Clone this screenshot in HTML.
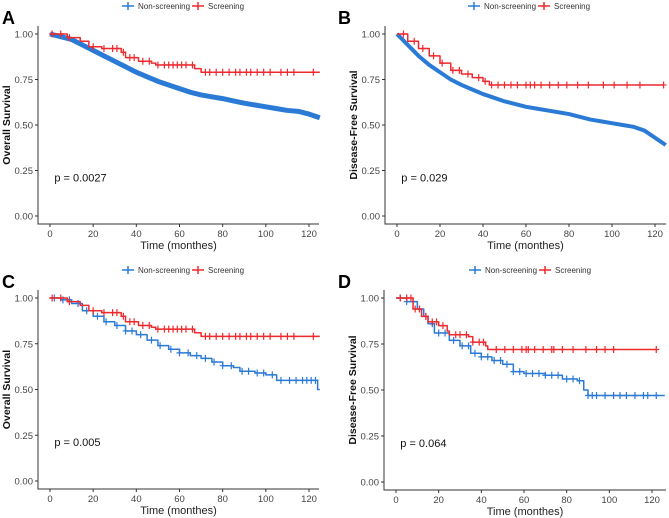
<!DOCTYPE html>
<html><head><meta charset="utf-8">
<style>
body{margin:0;background:#fff;font-family:"Liberation Sans",sans-serif;}
svg{display:block}
</style></head>
<body>
<svg id="chart" width="669" height="518" viewBox="0 0 669 518" xmlns="http://www.w3.org/2000/svg"></svg>
<script>
const xTicks=[0,20,40,60,80,100,120];
const yTicks=[0,0.25,0.5,0.75,1];
const yTickLabels=["0.00","0.25","0.50","0.75","1.00"];
const panelLetters=["A","B","C","D"];
const yTitles=["Overall Survival","Disease-Free Survival","Overall Survival","Disease-Free Survival"];
const pLabels=["p = 0.0027","p = 0.029","p = 0.005","p = 0.064"];
const aNonT=[0,5,10,15,20,25,30,35,40,45,50,55,60,65,70,75,80,85,90,95,100,105,110,115,120,125];
const aNonS=[1,0.985,0.97,0.94,0.91,0.88,0.85,0.82,0.79,0.765,0.74,0.72,0.70,0.68,0.665,0.655,0.645,0.632,0.62,0.61,0.60,0.59,0.58,0.575,0.56,0.54];
const aScrT=[0,8,14,18,24,33,35,41,47,49,67,70,125];
const aScrS=[1,0.98,0.96,0.93,0.92,0.90,0.87,0.85,0.84,0.83,0.81,0.79,0.79];
const aScrC=[1,5,9,20,25,29,31,34,37,39,43,46,50,53,55,57,59,61,63,66,72,74,77,80,83,86,88,91,93,96,99,102,107,110,113,122];
const bNonT=[0,5,10,15,20,25,30,35,40,45,50,55,60,65,70,75,80,85,90,95,100,105,110,115,120,125];
const bNonS=[1,0.94,0.88,0.83,0.79,0.75,0.72,0.695,0.67,0.65,0.63,0.615,0.60,0.59,0.58,0.57,0.56,0.545,0.53,0.52,0.51,0.50,0.49,0.47,0.43,0.39];
const bScrT=[0,5,10,15,20,25,30,35,40,43,124];
const bScrS=[1,0.96,0.92,0.88,0.84,0.80,0.78,0.76,0.74,0.72,0.72];
const bScrC=[3,8,12,17,21,26,29,33,38,41,44,47,50,53,56,60,62,64,67,71,75,79,84,89,96,101,107,113,124];
const cNonT=[0,5,10,15,20,25,30,35,40,45,50,55,60,65,70,75,80,85,88,95,100,105,110,120,124,125];
const cNonS=[1,0.99,0.97,0.93,0.90,0.87,0.85,0.82,0.80,0.77,0.74,0.72,0.70,0.685,0.67,0.65,0.63,0.62,0.60,0.59,0.58,0.55,0.55,0.55,0.50,0.50];
const cNonC=[2,6,9,13,17,22,26,31,35,38,42,47,51,56,60,64,68,72,76,80,84,89,92,96,99,103,107,111,114,117,119,121,123];
const cScrT=aScrT, cScrS=aScrS, cScrC=aScrC;
const dNonT=[0,5,10,13,15,18,25,30,35,40,45,50,55,60,70,78,85,88,90,126];
const dNonS=[1,0.98,0.94,0.90,0.86,0.81,0.77,0.74,0.70,0.68,0.66,0.64,0.60,0.59,0.58,0.56,0.55,0.50,0.47,0.47];
const dNonC=[2,5,8,11,14,17,20,23,27,31,34,37,40,43,46,49,52,55,58,61,64,67,70,73,76,80,83,86,90,92,94,98,102,105,108,112,116,118,122];
const dScrT=[0,8,12,15,20,24,25,34,36,42,43,122];
const dScrS=[1,0.94,0.90,0.87,0.85,0.82,0.80,0.79,0.76,0.74,0.72,0.72];
const dScrC=[2,5,7,9,11,14,17,19,22,28,30,33,36,39,41,47,51,55,59,61,62,65,69,73,74,78,83,89,94,98,102,122];
const panels=[
 {x0:50,x1:309,xl:38,xr:319,yt:34,yb:216,ya:224,nT:aNonT,nS:aNonS,nC:null,nW:5,nL:true,sT:aScrT,sS:aScrS,sC:aScrC},
 {x0:397,x1:655,xl:385,xr:666,yt:34,yb:216,ya:224,nT:bNonT,nS:bNonS,nC:null,nW:4,nL:true,sT:bScrT,sS:bScrS,sC:bScrC},
 {x0:50,x1:309,xl:38,xr:319,yt:298,yb:481,ya:489,nT:cNonT,nS:cNonS,nC:cNonC,nW:1.5,nL:false,sT:cScrT,sS:cScrS,sC:cScrC},
 {x0:396,x1:652,xl:384,xr:666,yt:298,yb:482,ya:490,nT:dNonT,nS:dNonS,nC:dNonC,nW:1.5,nL:false,sT:dScrT,sS:dScrS,sC:dScrC}
];
const BLUE="#2b7bd6", RED="#ee2a2e";
const svg=document.getElementById('chart');
const NS="http://www.w3.org/2000/svg";
function mk(tag,attrs,parent){const e=document.createElementNS(NS,tag);for(const k in attrs)e.setAttribute(k,attrs[k]);(parent||svg).appendChild(e);return e;}
function stepAt(T,S,t){let v=S[0];for(let i=0;i<T.length;i++){if(T[i]<=t)v=S[i];}return v;}
panels.forEach((p,i)=>{
 const g=mk('g',{});
 
 
 const xs=t=>p.x0+(p.x1-p.x0)*t/120;
 const ys=v=>p.yb-(p.yb-p.yt)*v;
 const L=mk('text',{x:(i%2?338:2),y:p.yt-10,'font-size':18,'font-weight':'bold',fill:'#000'},g);L.textContent=panelLetters[i];
 
 const lx=(i%2?(i==3?469:468):122), ly=p.yt-28;
 const lg=mk('g',{},g);
 
 [[BLUE,"Non-screening",lx],[RED,"Screening",lx+70]].forEach(([c,t,x])=>{
  mk('line',{x1:x,y1:ly,x2:x+12,y2:ly,stroke:c,'stroke-width':1.5},lg);
  mk('line',{x1:x+6,y1:ly-4,x2:x+6,y2:ly+4,stroke:c,'stroke-width':1.5},lg);
  const tt=mk('text',{x:x+16,y:ly+3,'font-size':8,fill:'#333'},lg);tt.textContent=t;
  
 });
 const ax=mk('path',{d:`M${p.xl},${p.yt-8}V${p.ya}H${p.xr}`,stroke:'#333',fill:'none','stroke-width':1},g);
 
 yTicks.forEach((v,k)=>{
  mk('line',{x1:p.xl-3,x2:p.xl,y1:ys(v),y2:ys(v),stroke:'#333'},g);
  const t=mk('text',{x:p.xl-5,y:ys(v)+3.5,'font-size':9.5,'text-anchor':'end',fill:'#444'},g);t.textContent=yTickLabels[k];
  
 });
 xTicks.forEach(v=>{
  mk('line',{x1:xs(v),x2:xs(v),y1:p.ya,y2:p.ya+3,stroke:'#333'},g);
  const t=mk('text',{x:xs(v),y:p.ya+13,'font-size':9.5,'text-anchor':'middle',fill:'#444'},g);t.textContent=v;
  
 });
 const xt=mk('text',{x:(p.xl+p.xr)/2,y:p.ya+25,'font-size':11,'text-anchor':'middle',fill:'#222'},g);xt.textContent="Time (monthes)";
 
 const yc=(p.yt+p.yb)/2, yx=p.xl-28;
 const yt=mk('text',{x:yx,y:yc,'font-size':10.5,'font-weight':'bold','text-anchor':'middle',fill:'#111',transform:`rotate(-90 ${yx} ${yc})`},g);yt.textContent=yTitles[i];
 
 const pt=mk('text',{x:xs(2),y:ys(0.19),'font-size':11,fill:'#111'},g);pt.textContent=pLabels[i];
 
 function curve(T,S,C,col,w,name,linear){
  let d=`M${xs(T[0])},${ys(S[0])}`;
  for(let k=1;k<T.length;k++){d+=linear?`L${xs(T[k])},${ys(S[k])}`:`H${xs(T[k])}V${ys(S[k])}`;}
  const c=mk('path',{d:d,stroke:col,fill:'none','stroke-width':w,'stroke-linejoin':'round'},g);
  
  if(C){C.forEach(t=>{const x=xs(t),y=ys(stepAt(T,S,t));
   const m=mk('path',{d:`M${x-3},${y}H${x+3}M${x},${y-3.5}V${y+3.5}`,stroke:col,'stroke-width':1.2},g);
   });}
 }
 curve(p.nT,p.nS,p.nC,BLUE,p.nW,'non-screening-curve',p.nL);
 curve(p.sT,p.sS,p.sC,RED,1.5,'screening-curve',false);
});
</script>
</body></html>
